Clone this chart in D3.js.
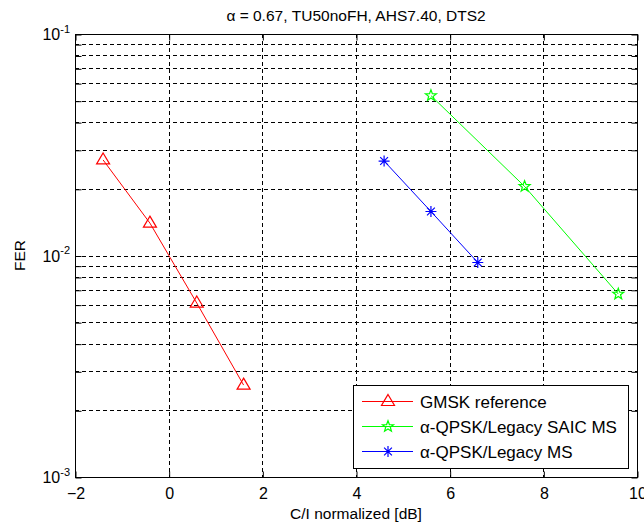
<!DOCTYPE html>
<html><head><meta charset="utf-8">
<script src="https://cdn.jsdelivr.net/npm/d3@7/dist/d3.min.js"></script>
<style>
body{margin:0;background:#fff}
svg{display:block}
text{font-family:"Liberation Sans",Arial,Helvetica,sans-serif;fill:#000}
</style>
</head><body>
<script>
// ---- data ----
const titleText = "α = 0.67, TU50noFH, AHS7.40, DTS2";
const xLabelText = "C/I normalized [dB]";
const yLabelText = "FER";
const xTicks = [-2, 0, 2, 4, 6, 8, 10];
const yDecades = [1e-3, 1e-2, 1e-1];
const yDecadeExp = ["-3", "-2", "-1"];
const yMinor = [2e-3,3e-3,4e-3,5e-3,6e-3,7e-3,8e-3,9e-3,2e-2,3e-2,4e-2,5e-2,6e-2,7e-2,8e-2,9e-2];
const seriesNames = ["GMSK reference", "α-QPSK/Legacy SAIC MS", "α-QPSK/Legacy MS"];
const seriesColors = ["#ff0000", "#00ff00", "#0000ff"];
const seriesMarkers = ["triangle", "star", "asterisk"];
const gmskX = [-1.4, -0.4, 0.6, 1.6];
const gmskY = [0.027, 0.014, 0.0061, 0.0026];
const saicX = [5.6, 7.6, 9.6];
const saicY = [0.0527, 0.0205, 0.0067];
const legacyX = [4.6, 5.6, 6.6];
const legacyY = [0.0267, 0.0158, 0.0093];

const series = [
  {name: seriesNames[0], color: seriesColors[0], marker: seriesMarkers[0], pts: gmskX.map((x,i)=>[x, gmskY[i]])},
  {name: seriesNames[1], color: seriesColors[1], marker: seriesMarkers[1], pts: saicX.map((x,i)=>[x, saicY[i]])},
  {name: seriesNames[2], color: seriesColors[2], marker: seriesMarkers[2], pts: legacyX.map((x,i)=>[x, legacyY[i]])}
];

// ---- layout ----
const W = 644, H = 526;
const L = 75, R = 637, T = 34, B = 477;
const svg = d3.select("body").append("svg").attr("width", W).attr("height", H);
const x = d3.scaleLinear().domain([-2, 10]).range([L, R]);
const y = d3.scaleLog().domain([1e-3, 1e-1]).range([B, T]);
const px = v => Math.round(v) + 0.5;

// grid
const grid = svg.append("g").attr("stroke", "#000").attr("stroke-width", 1).attr("stroke-dasharray", "4,3").attr("fill", "none");
grid.selectAll(".gx").data(xTicks.slice(1, -1)).join("line")
  .attr("x1", d => px(x(d))).attr("x2", d => px(x(d))).attr("y1", T).attr("y2", B);
grid.selectAll(".gy").data(yMinor.concat([1e-2])).join("line")
  .attr("y1", d => px(y(d))).attr("y2", d => px(y(d))).attr("x1", L).attr("x2", R);

// axes
const fs = 16;
const axB = svg.append("g").attr("transform", `translate(0.5,${B + 0.5})`)
  .call(d3.axisBottom(x).tickValues(xTicks).tickSize(-6).tickFormat(d3.format("d")));
axB.select(".domain").remove();
axB.selectAll("text").attr("y", 10).attr("dy", "0.71em").style("font-size", fs + "px").style("font-family", "Liberation Sans, Arial, sans-serif");
const axT = svg.append("g").attr("transform", `translate(0.5,${T + 0.5})`)
  .call(d3.axisTop(x).tickValues(xTicks).tickSize(-6).tickFormat(""));
axT.select(".domain").remove();

const yAll = yDecades.concat(yMinor);
const axL = svg.append("g").attr("transform", `translate(${L + 0.5},0.5)`)
  .call(d3.axisLeft(y).tickValues(yAll).tickSize(-6).tickFormat(""));
axL.select(".domain").remove();
const axR = svg.append("g").attr("transform", `translate(${R + 0.5},0.5)`)
  .call(d3.axisRight(y).tickValues(yAll).tickSize(-6).tickFormat(""));
axR.select(".domain").remove();

// y tick labels 10^k
const yl = svg.append("g").selectAll("text").data(yDecades).join("text")
  .attr("x", L - 5).attr("y", d => y(d) + 6).attr("text-anchor", "end").style("font-size", fs + "px");
yl.append("tspan").text("10");
yl.append("tspan").attr("dy", -7.5).style("font-size", "11px").text((d, i) => yDecadeExp[i]);

// box
svg.append("rect").attr("x", L + 0.5).attr("y", T + 0.5).attr("width", R - L).attr("height", B - T)
  .attr("fill", "none").attr("stroke", "#000").attr("stroke-width", 1);

// labels
svg.append("text").attr("x", (L + R) / 2).attr("y", 21).attr("text-anchor", "middle").style("font-size", "15.5px").text(titleText);
svg.append("text").attr("x", (L + R) / 2).attr("y", 519).attr("text-anchor", "middle").style("font-size", "15.5px").text(xLabelText);
svg.append("text").attr("transform", `translate(25,${(T + B) / 2}) rotate(-90)`).attr("text-anchor", "middle").style("font-size", "15.5px").text(yLabelText);

// markers
function markerPath(type) {
  if (type === "triangle") return "M0,-7L6.5,4L-6.5,4Z";
  if (type === "star") {
    const pts = [];
    for (let k = 0; k < 10; k++) {
      const r = k % 2 === 0 ? 5.8 : 2.4;
      const a = -Math.PI / 2 + k * Math.PI / 5;
      pts.push([r * Math.cos(a), r * Math.sin(a)]);
    }
    return "M" + pts.map(p => p[0].toFixed(2) + "," + p[1].toFixed(2)).join("L") + "Z";
  }
  // asterisk
  const r = 5.5, d = 3.9;
  return `M${-r},0L${r},0M0,${-r}L0,${r}M${-d},${-d}L${d},${d}M${-d},${d}L${d},${-d}`;
}

const line = d3.line().x(d => x(d[0])).y(d => y(d[1]));
const sg = svg.append("g");
series.forEach(s => {
  sg.append("path").attr("d", line(s.pts)).attr("fill", "none").attr("stroke", s.color).attr("stroke-width", 1);
  sg.selectAll(null).data(s.pts).join("path")
    .attr("transform", d => `translate(${x(d[0])},${y(d[1])})`)
    .attr("d", markerPath(s.marker)).attr("fill", "none").attr("stroke", s.color).attr("stroke-width", 1.2);
});

// legend
const lg = svg.append("g");
lg.append("rect").attr("x", 353.5).attr("y", 385.5).attr("width", 275).attr("height", 83)
  .attr("fill", "#fff").attr("stroke", "#000").attr("stroke-width", 1);
series.forEach((s, i) => {
  const cy = 401.5 + i * 25;
  lg.append("line").attr("x1", 362).attr("x2", 413).attr("y1", cy).attr("y2", cy).attr("stroke", s.color).attr("stroke-width", 1);
  lg.append("path").attr("transform", `translate(388,${cy})`).attr("d", markerPath(s.marker)).attr("fill", "none").attr("stroke", s.color).attr("stroke-width", 1.2);
  lg.append("text").attr("x", 420).attr("y", cy + 6).style("font-size", "17px").text(s.name);
});
</script>
</body></html>
